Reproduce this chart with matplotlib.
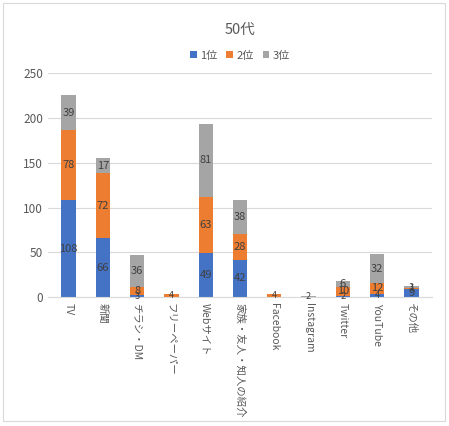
import matplotlib.pyplot as plt
import numpy as np

plt.rcParams['font.family'] = ['Noto Sans CJK JP', 'DejaVu Sans']

categories = ['TV', '新聞', 'チラシ・DM', 'フリーペーパー', 'Webサイト',
              '家族・友人・知人の紹介', 'Facebook', 'Instagram',
              'Twitter', 'YouTube', 'その他']
rank1 = [108, 66, 3, 0, 49, 42, 0, 0, 2, 4, 9]
rank2 = [78, 72, 8, 4, 63, 28, 4, 0, 10, 12, 1]
rank3 = [39, 17, 36, 0, 81, 38, 0, 2, 6, 32, 3]
series_names = ['1位', '2位', '3位']
colors = ['#4472C4', '#ED7D31', '#A5A5A5']

fig = plt.figure(figsize=(4.49, 4.26), dpi=100)
ax = fig.add_axes([0.107, 0.302, 0.855, 0.527])

x = np.arange(len(categories))
bottom = np.zeros(len(categories))
for vals, name, c in zip([rank1, rank2, rank3], series_names, colors):
    vals = np.array(vals)
    ax.bar(x, vals, 0.42, bottom=bottom, color=c, label=name, zorder=2)
    for xi, b, v in zip(x, bottom, vals):
        if v > 0:
            ax.text(xi, b + v / 2, str(v), ha='center', va='center',
                    fontsize=8 if v >= 5 else 6.5, color='#404040', zorder=3)
    bottom += vals

ax.set_xlim(-0.6, len(categories) - 0.4)
ax.set_ylim(0, 250)
ax.set_yticks(range(0, 251, 50))
ax.grid(axis='y', color='#d9d9d9', linewidth=0.8, zorder=0)
for s in ['top', 'right', 'left']:
    ax.spines[s].set_visible(False)
ax.spines['bottom'].set_color('#d9d9d9')
ax.tick_params(axis='y', length=0, colors='#595959', labelsize=8.5)
ax.tick_params(axis='x', length=0, colors='#595959', labelsize=7.5, pad=4)
ax.set_xticks(x)
ax.set_xticklabels(categories, rotation=-90, va='top', ha='center')

ax.set_title('50代', fontsize=10.5, color='#595959', pad=28)
ax.legend(loc='lower center', bbox_to_anchor=(0.5, 1.01), ncol=3, frameon=False,
          fontsize=8, handlelength=0.6, handleheight=0.6, columnspacing=0.8,
          handletextpad=0.3, labelcolor='#595959')

fig.patches.append(plt.Rectangle((0.006, 0.012), 0.985, 0.98, transform=fig.transFigure,
                                 fill=False, edgecolor='#d9d9d9', linewidth=0.8))

plt.savefig('out.png', dpi=100)
